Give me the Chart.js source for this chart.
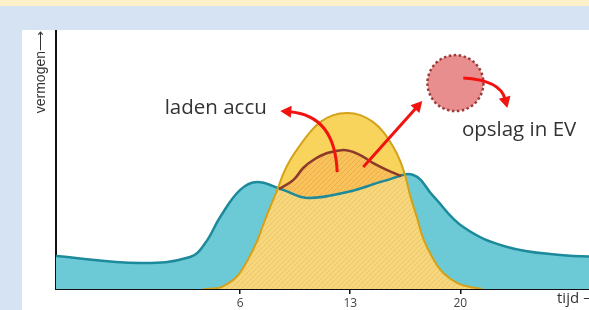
<!DOCTYPE html>
<html>
<head>
<meta charset="utf-8">
<script src="https://cdn.jsdelivr.net/npm/chart.js@4"></script>
<style>
    html, body { margin: 0; padding: 0; width: 589px; height: 310px; overflow: hidden; background: #d6e3f3; }
    #strook { position: absolute; left: 0; top: 0; width: 589px; height: 6px; background: #fdf1ca; }
    #paneel { position: absolute; left: 22px; top: 30px; right: 0; bottom: 0; background: #fff; }
    #omhulsel { position: absolute; left: 0; top: 0; width: 610px; height: 310px; }
</style>
</head>
<body>
<div id="strook"></div>
<div id="paneel"></div>
<div id="omhulsel"><canvas id="grafiek" width="610" height="310"></canvas></div>
<script>
// verbruik (blauw)
const verbruikT = [-5.71, -0.36, 2.82, 3.78, 4.73, 6.0, 7.08, 8.73, 10.26, 12.81, 15.35, 17.01, 18.28, 20.19, 22.98, 26.36, 29.23];
const verbruikP = [12.8, 10.1, 12.4, 17.8, 27.9, 38.4, 41.5, 38.4, 35.3, 37.6, 42.2, 44.2, 36.0, 24.0, 16.3, 13.2, 12.4];

// zonne-opwek (geel)
const zonT = [3.65, 4.6, 5.17, 5.81, 6.45, 7.08, 7.46, 7.91, 8.36, 8.74, 9.18, 9.82, 10.46, 11.09, 11.92, 12.81, 13.64, 14.46, 15.1, 15.74, 16.18, 16.5, 16.82, 17.27, 17.65, 18.28, 18.92, 19.81, 20.64, 21.4];
const zonP = [0, 0.4, 1.9, 5.0, 10.9, 18.6, 24.8, 31.8, 38.4, 44.6, 50.0, 55.8, 60.9, 64.7, 67.4, 68.2, 67.4, 64.7, 60.9, 55.0, 49.6, 43.8, 36.0, 27.1, 19.4, 11.6, 6.2, 2.3, 0.8, 0];

// laden accu (bruin)
const accuT = [8.48, 9.37, 10.01, 10.65, 11.54, 12.56, 13.19, 13.83, 14.46, 15.35, 16.24];
const accuP = [38.8, 42.2, 46.9, 50.0, 52.7, 53.9, 53.1, 51.2, 48.8, 46.1, 43.8];

const tijdTicks = [6, 13, 20];

const punten = (t, p) => t.map((v, i) => ({ x: v, y: p[i] }));

function arcering(basis, streep) {
    const c = document.createElement("canvas");
    c.width = 5; c.height = 5;
    const g = c.getContext("2d");
    g.fillStyle = basis;
    g.fillRect(0, 0, 5, 5);
    g.strokeStyle = streep;
    g.lineWidth = 1;
    g.beginPath();
    g.moveTo(0, 5); g.lineTo(5, 0);
    g.moveTo(-1, 1); g.lineTo(1, -1);
    g.moveTo(4, 6); g.lineTo(6, 4);
    g.stroke();
    return g.createPattern(c, "repeat");
}

const geelArcering = arcering("#f6d77e", "#efc464");
const oranjeArcering = arcering("#f8c35a", "#f1aa4c");

// annotaties in data-eenheden
const labels = [
    { tekst: "laden accu", p: [1.2, 70.2] },
    { tekst: "opslag in EV", p: [20.1, 61.6] }
];
const cirkel = { p: [19.69, 79.8], r: 28 };
const pijlen = [
    { van: [12.17, 45.3], via: [12.04, 67.4], naar: [8.55, 69.0] },
    { van: [13.83, 47.3], via: null, naar: [17.58, 72.9] },
    { van: [20.19, 81.8], via: [22.54, 81.0], naar: [22.99, 70.2] }
];

const notities = {
    id: "notities",
    afterDatasetsDraw(chart) {
        const { ctx, scales: { x, y } } = chart;
        const px = (p) => [x.getPixelForValue(p[0]), y.getPixelForValue(p[1])];
        ctx.save();

        // cirkel
        const [cx, cy] = px(cirkel.p);
        ctx.beginPath();
        ctx.arc(cx, cy, cirkel.r, 0, Math.PI * 2);
        ctx.fillStyle = "#e98e8e";
        ctx.fill();
        ctx.setLineDash([2.5, 2.5]);
        ctx.lineWidth = 2.5;
        ctx.strokeStyle = "#9c3b3a";
        ctx.stroke();
        ctx.setLineDash([]);

        // pijlen
        ctx.strokeStyle = "#f2120f";
        ctx.fillStyle = "#f2120f";
        ctx.lineWidth = 3;
        pijlen.forEach(a => {
            const [x0, y0] = px(a.van);
            const [x2, y2] = px(a.naar);
            let rx = x0, ry = y0;
            ctx.beginPath();
            ctx.moveTo(x0, y0);
            if (a.via) {
                const [x1, y1] = px(a.via);
                rx = x1; ry = y1;
            }
            const hoek = Math.atan2(y2 - ry, x2 - rx);
            const kop = 11;
            const ex = x2 - Math.cos(hoek) * (kop - 2);
            const ey = y2 - Math.sin(hoek) * (kop - 2);
            if (a.via) {
                ctx.quadraticCurveTo(rx, ry, ex, ey);
            } else {
                ctx.lineTo(ex, ey);
            }
            ctx.stroke();
            ctx.beginPath();
            ctx.moveTo(x2, y2);
            ctx.lineTo(x2 - Math.cos(hoek) * kop + Math.sin(hoek) * 6, y2 - Math.sin(hoek) * kop - Math.cos(hoek) * 6);
            ctx.lineTo(x2 - Math.cos(hoek) * kop - Math.sin(hoek) * 6, y2 - Math.sin(hoek) * kop + Math.cos(hoek) * 6);
            ctx.closePath();
            ctx.fill();
        });

        // teksten
        ctx.fillStyle = "#333";
        ctx.font = "20.5px 'Open Sans'";
        ctx.textAlign = "left";
        ctx.textBaseline = "middle";
        labels.forEach(l => {
            const [lx, ly] = px(l.p);
            ctx.fillText(l.tekst, lx, ly);
        });
        ctx.restore();
    }
};

const ctx = document.getElementById("grafiek").getContext("2d");

new Chart(ctx, {
    type: "line",
    data: {
        datasets: [
            {
                label: "laden accu",
                data: punten(accuT, accuP),
                borderColor: "#8d3a2b",
                borderWidth: 2.5,
                fill: { target: 3, above: oranjeArcering, below: "rgba(0,0,0,0)" }
            },
            {
                label: "zon boven verbruik",
                data: punten(zonT, zonP),
                borderWidth: 0,
                borderColor: "rgba(0,0,0,0)",
                fill: { target: 3, above: "#f9d45d", below: "rgba(0,0,0,0)" }
            },
            {
                label: "zon",
                data: punten(zonT, zonP),
                borderColor: "#d4a118",
                borderWidth: 2,
                backgroundColor: geelArcering,
                fill: "origin"
            },
            {
                label: "verbruik",
                data: punten(verbruikT, verbruikP),
                borderColor: "#1c8a9a",
                borderWidth: 2.5,
                backgroundColor: "#6ccad7",
                fill: "origin"
            }
        ]
    },
    options: {
        responsive: false,
        animation: false,
        elements: {
            point: { radius: 0 },
            line: { tension: 0.4 }
        },
        layout: { padding: { left: 22, top: 31, right: 5, bottom: 0 } },
        plugins: {
            legend: { display: false },
            tooltip: { enabled: false },
            filler: { drawTime: "beforeDatasetsDraw" }
        },
        scales: {
            x: {
                type: "linear",
                min: -5.71,
                max: 29.2,
                afterBuildTicks(s) { s.ticks = tijdTicks.map(v => ({ value: v })); },
                ticks: { color: "#444", font: { family: "Open Sans", size: 12 }, padding: 2 },
                grid: { drawOnChartArea: false, color: "#111", lineWidth: 1.5, tickLength: 5 },
                border: { color: "#111", width: 2 },
                title: {
                    display: true,
                    text: "tijd \u27F6",
                    align: "end",
                    color: "#333",
                    font: { family: "Open Sans", size: 15 },
                    padding: { top: 0, bottom: 2 }
                },
                afterFit(s) { s.height = 21; }
            },
            y: {
                min: 0,
                max: 100,
                ticks: { display: false },
                grid: { display: false },
                border: { color: "#111", width: 2 },
                title: {
                    display: true,
                    text: "vermogen\u27F6",
                    align: "end",
                    color: "#333",
                    font: { family: "Liberation Sans", size: 14 },
                    padding: { top: 11, bottom: 0 }
                },
                afterFit(s) { s.width = 34; }
            }
        }
    },
    plugins: [notities]
});
</script>
</body>
</html>
